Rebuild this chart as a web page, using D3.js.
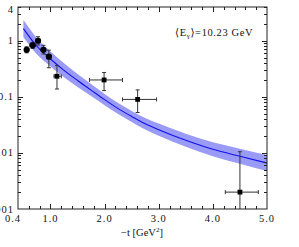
<!DOCTYPE html>
<html>
<head>
<meta charset="utf-8">
<script src="https://cdn.jsdelivr.net/npm/d3@7/dist/d3.min.js"></script>
<style>
html,body{margin:0;padding:0;background:#fff;}
text{font-family:"Liberation Serif","DejaVu Serif",serif;fill:#111;}
</style>
</head>
<body>
<script>
// ---- data ----
const tVals   = [0.56, 0.67, 0.77, 0.87, 0.97, 1.12, 1.99, 2.61, 4.50];
const sigma   = [0.69, 0.83, 1.00, 0.69, 0.52, 0.233, 0.20, 0.090, 0.0020];
const sigmaHi = [0.78, 0.94, 1.18, 0.83, 0.68, 0.36, 0.272, 0.133, 0.0105];
const sigmaLo = [0.61, 0.73, 0.84, 0.58, 0.33, 0.138, 0.129, 0.0525, 0.0009];
const tLo     = [0.52, 0.62, 0.73, 0.83, 0.93, 1.065, 1.72, 2.33, 4.23];
const tHi     = [0.60, 0.72, 0.81, 0.91, 1.01, 1.20, 2.33, 2.96, 4.84];
const pointKind = ["circle","circle","circle","circle","circle","square","square","square","square"];

const curveT     = [0.5, 0.75, 1.0, 1.25, 1.5, 1.75, 2.0, 2.25, 2.5, 2.75, 3.0, 3.5, 4.0, 4.5, 5.0];
const curveMid   = [1.65, 0.798, 0.473, 0.297, 0.196, 0.132, 0.0891, 0.0617, 0.0447, 0.0331, 0.0260, 0.0168, 0.0116, 0.0087, 0.0066];
const curveUpper = [2.34, 1.11, 0.644, 0.396, 0.256, 0.169, 0.112, 0.0773, 0.0560, 0.0420, 0.0333, 0.0219, 0.0155, 0.0119, 0.00918];
const curveLower = [1.16, 0.574, 0.348, 0.223, 0.150, 0.103, 0.0711, 0.0492, 0.0356, 0.0261, 0.0203, 0.0129, 0.00871, 0.00640, 0.00475];

const xTickLabels = ["0.4", "1.0", "2.0", "3.0", "4.0", "5.0"];
const xTickValues = [0.4, 1, 2, 3, 4, 5];
const yTickLabels = ["4", "1", "0.1", "0.01", "0.001"];
const yTickValues = [4, 1, 0.1, 0.01, 0.001];
const annotation = {pre: "\u27E8E", sub: "\u03B3", post: "\u27E9=10.23  GeV"};

// ---- layout ----
const W = 299, H = 247;
const L = 18, R = 267, T = 7, B = 209;

const svg = d3.select("body").append("svg").attr("width", W).attr("height", H);
const x = d3.scaleLinear().domain([0.4, 5]).range([L, R]);
const y = d3.scaleLog().domain([0.001, 4]).range([B, T]);

svg.append("defs").append("clipPath").attr("id", "clip")
  .append("rect").attr("x", L).attr("y", T).attr("width", R - L).attr("height", B - T);

const g = svg.append("g").attr("clip-path", "url(#clip)");
const curveData = curveT.map((t, i) => ({t, m: curveMid[i], u: curveUpper[i], l: curveLower[i]}));

g.append("path").datum(curveData)
  .attr("d", d3.area().x(d => x(d.t)).y0(d => y(d.l)).y1(d => y(d.u)).curve(d3.curveMonotoneX))
  .attr("fill", "#9a9af7");
g.append("path").datum(curveData)
  .attr("d", d3.line().x(d => x(d.t)).y(d => y(d.m)).curve(d3.curveMonotoneX))
  .attr("fill", "none").attr("stroke", "#1010e8").attr("stroke-width", 1.1);

// error bars
const pts = tVals.map((t, i) => ({t, s: sigma[i], sh: sigmaHi[i], sl: sigmaLo[i], tl: tLo[i], th: tHi[i], k: pointKind[i]}));
const eb = g.append("g").attr("stroke", "#333").attr("stroke-width", 1);
pts.forEach(d => {
  const cx = x(d.t), cy = y(d.s);
  eb.append("line").attr("x1", cx).attr("x2", cx).attr("y1", y(d.sh)).attr("y2", y(d.sl));
  eb.append("line").attr("x1", x(d.tl)).attr("x2", x(d.th)).attr("y1", cy).attr("y2", cy);
  [d.sh, d.sl].forEach(v => eb.append("line").attr("x1", cx - 2).attr("x2", cx + 2).attr("y1", y(v)).attr("y2", y(v)));
  [d.tl, d.th].forEach(v => eb.append("line").attr("x1", x(v)).attr("x2", x(v)).attr("y1", cy - 2).attr("y2", cy + 2));
});
pts.forEach(d => {
  const cx = x(d.t), cy = y(d.s);
  if (d.k === "circle") g.append("circle").attr("cx", cx).attr("cy", cy).attr("r", 3.1).attr("fill", "#000");
  else g.append("rect").attr("x", cx - 2.4).attr("y", cy - 2.4).attr("width", 4.8).attr("height", 4.8).attr("fill", "#000");
});

// frame
svg.append("rect").attr("x", L).attr("y", T).attr("width", R - L).attr("height", B - T)
  .attr("fill", "none").attr("stroke", "#222").attr("stroke-width", 1);

// x ticks (inward, top and bottom)
const xMinor = d3.range(0.6, 4.9, 0.2).map(v => +v.toFixed(1));
const tk = svg.append("g").attr("stroke", "#222").attr("stroke-width", 1);
xMinor.forEach(v => {
  const major = Math.abs(v - Math.round(v)) < 1e-6;
  const len = major ? 5 : 3;
  const px = Math.round(x(v)) + 0.5;
  tk.append("line").attr("x1", px).attr("x2", px).attr("y1", B).attr("y2", B - len);
  tk.append("line").attr("x1", px).attr("x2", px).attr("y1", T).attr("y2", T + len);
});
// y ticks (log)
const yTicks = [];
for (let e = -3; e <= 0; e++) for (let k = 1; k <= 9; k++) { const v = k * Math.pow(10, e); if (v <= 4 && v > 0.001) yTicks.push({v, major: k === 1}); }
yTicks.forEach(d => {
  const len = d.major ? 5 : 3;
  const py = Math.round(y(d.v)) + 0.5;
  tk.append("line").attr("x1", L).attr("x2", L + len).attr("y1", py).attr("y2", py);
  tk.append("line").attr("x1", R).attr("x2", R - len).attr("y1", py).attr("y2", py);
});

// tick labels
xTickValues.forEach((v, i) => {
  svg.append("text").attr("x", x(v) + (i === 0 ? -5 : 0)).attr("y", 222)
    .attr("text-anchor", "middle").attr("font-size", 10.5).attr("letter-spacing", 1)
    .text(xTickLabels[i]);
});
yTickValues.forEach((v, i) => {
  svg.append("text").attr("x", 14).attr("y", y(v) + (i === 0 ? 6 : 3.5))
    .attr("text-anchor", "end").attr("font-size", 10.5).attr("letter-spacing", 1)
    .text(yTickLabels[i]);
});

// axis title
const xt = svg.append("text").attr("x", 142).attr("y", 236).attr("text-anchor", "middle").attr("font-size", 10.5);
xt.append("tspan").text("\u2212t  [GeV");
xt.append("tspan").attr("dy", -4).attr("font-size", 7).text("2");
xt.append("tspan").attr("dy", 4).text("]");

// annotation
const an = svg.append("text").attr("x", 175).attr("y", 36).attr("font-size", 10.5).attr("letter-spacing", 0.6);
an.append("tspan").text(annotation.pre);
an.append("tspan").attr("dy", 2).attr("font-size", 7).text(annotation.sub);
an.append("tspan").attr("dy", -2).text(annotation.post);
</script>
</body>
</html>
